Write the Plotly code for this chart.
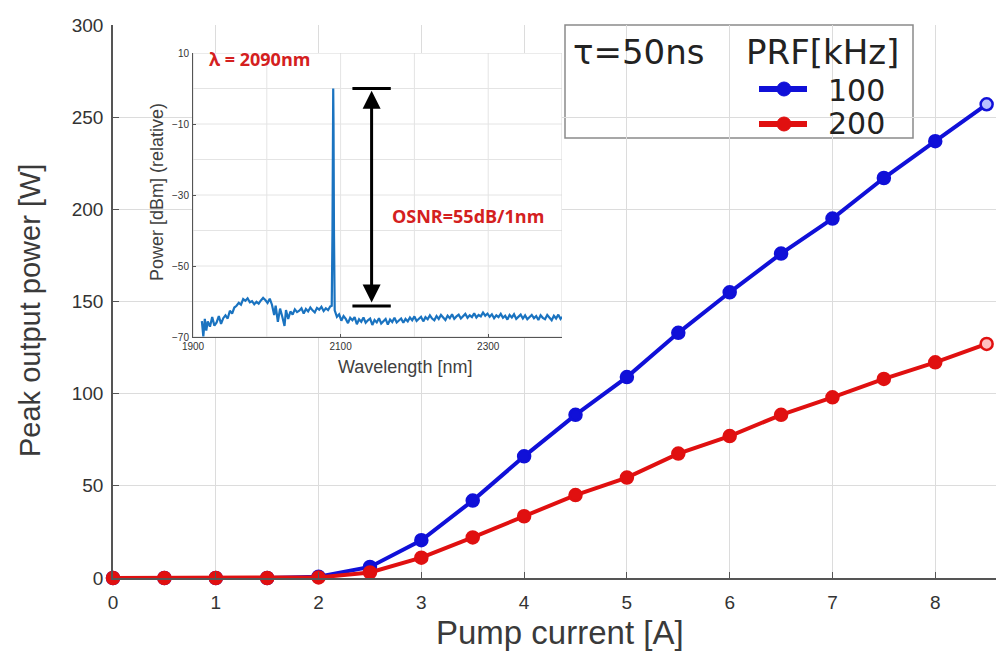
import plotly.graph_objects as go

# ---------------- data ----------------
pump_current = [0, 0.5, 1, 1.5, 2, 2.5, 3, 3.5, 4, 4.5, 5, 5.5, 6, 6.5, 7, 7.5, 8, 8.5]
peak_100khz = [0, 0, 0, 0, 0.7, 6, 20.5, 42, 66, 88.5, 109, 133, 155, 176, 195, 217, 237, 257]
peak_200khz = [0, 0, 0, 0, 0.3, 3, 11, 22, 33.5, 45, 54.5, 67.5, 77, 88.5, 98, 108, 117, 127]
x_ticks = [0, 1, 2, 3, 4, 5, 6, 7, 8]
y_ticks = [0, 50, 100, 150, 200, 250, 300]

spec_wl = [1912, 1914, 1916, 1918, 1920, 1923, 1926, 1929, 1932, 1935, 1938, 1941,
           1944, 1947, 1950, 1953, 1956, 1959,
           1962, 1965, 1968, 1971, 1974, 1977, 1980, 1983, 1986, 1989, 1992, 1995, 1998, 2001, 2004,
           2007, 2010, 2012, 2015, 2018, 2021, 2024, 2026, 2029, 2032,
           2035, 2038, 2041, 2044, 2047, 2050, 2053, 2056, 2059, 2062, 2065, 2068, 2071, 2074, 2077,
           2080, 2083, 2086,
           2088, 2089, 2089.6, 2090, 2090.4, 2091, 2092,
           2095, 2098, 2101, 2104, 2107, 2110, 2113, 2116, 2119, 2122, 2125, 2128, 2131, 2134, 2137,
           2140, 2143, 2146, 2149, 2152, 2155, 2158, 2161, 2164, 2167, 2170, 2173, 2176, 2179, 2182,
           2185, 2188, 2191, 2194, 2197, 2200, 2203, 2206, 2209, 2212, 2215, 2218, 2221, 2224, 2227,
           2230, 2233, 2236, 2239, 2242, 2245, 2248, 2251, 2254, 2257, 2260, 2263, 2266, 2269, 2272,
           2275, 2278, 2281, 2284, 2287, 2290, 2293, 2296, 2299, 2302, 2305, 2308, 2311, 2314, 2317,
           2320, 2323, 2326, 2329, 2332, 2335, 2338, 2341, 2344, 2347, 2350, 2353, 2356, 2359, 2362,
           2365, 2368, 2371, 2374, 2377, 2380, 2383, 2386, 2389, 2392, 2395, 2398, 2400]
spec_db = [-65.5, -69.8, -64.9, -68.2, -65.6, -67.1, -64.4, -66.8, -65.9, -64.1, -66.3, -64.7,
           -63.9, -64.8, -62.6, -63.4, -61.7, -61.2,
           -60.4, -60.9, -59.3, -59.8, -59.1, -60.2, -59.9, -60.8, -60.1, -60.6, -59.7, -59.0, -59.6, -60.4, -59.2,
           -60.9, -63.8, -61.2, -65.7, -62.0, -64.3, -66.9, -62.4, -64.9, -62.8,
           -63.7, -62.2, -63.0, -62.6, -61.9, -63.4, -62.1, -62.8, -61.7, -62.5, -63.1, -61.8, -62.3, -61.5, -62.7,
           -61.9, -62.4, -61.4,
           -61.2, -40.0, -10.0, 0.0, -10.0, -40.0, -62.5,
           -64.3, -63.6, -65.4, -64.1, -64.9, -66.1, -64.6, -65.3, -64.4, -66.4, -65.0, -65.7, -64.5, -66.0, -65.3,
           -64.8, -66.6, -65.2, -65.9, -64.7, -66.2, -65.4, -64.9, -66.5, -65.1, -65.8, -64.6, -65.9, -65.3, -64.8,
           -66.0, -64.9, -65.6, -64.5, -65.3, -64.2, -65.5, -64.8, -64.3, -65.6, -64.4, -65.0, -63.9, -64.8, -65.3,
           -64.1, -64.9, -63.8, -64.6, -65.2, -64.0, -64.7, -63.6, -64.9, -64.2, -63.7, -64.8, -64.1, -63.5, -64.6,
           -63.9, -64.4, -63.3, -64.5, -63.8, -64.2, -63.1, -64.0, -63.4, -64.3, -63.6, -64.7, -63.9, -64.4, -63.5,
           -64.6, -64.0, -65.1, -63.8, -64.5, -63.6, -64.9, -64.2, -63.7, -64.8, -63.9, -65.0, -64.3, -63.8, -64.7,
           -64.1, -65.2, -63.9, -64.6, -65.0, -63.8, -64.5, -65.3, -64.0, -64.8, -63.7, -64.9, -64.3]
inset_x_ticks = [1900, 2100, 2300]
inset_y_ticks = [10, -10, -30, -50, -70]
inset_x_grid = [2000, 2100, 2200, 2300]
inset_y_grid = [0, -10, -20, -30, -40, -50, -60]

BLUE = "#1010d8"
RED = "#e01010"
NARROW = "Liberation Sans Narrow, Arial Narrow, Liberation Sans, sans-serif"
BOLDF = "Open Sans, Lato, sans-serif"

# page offset (body margin) and plot area in page pixels
OFF = 8
L, R, T, B = 113, 1000, 25, 578
FIG_W, FIG_H = 1004 - OFF, 644
def fx(px):
    return (px - L) / (R - L)
def fy(py):
    return (B - py) / (B - T)

fig = go.Figure()

n = len(pump_current)
fig.add_trace(go.Scatter(
    x=pump_current, y=peak_100khz, mode="lines+markers", name="100",
    line=dict(color=BLUE, width=4),
    marker=dict(size=12, color=[BLUE] * (n - 1) + ["#b8c0ff"], line=dict(color=BLUE, width=2.5)),
    cliponaxis=False, showlegend=False))
fig.add_trace(go.Scatter(
    x=pump_current, y=peak_200khz, mode="lines+markers", name="200",
    line=dict(color=RED, width=4),
    marker=dict(size=12, color=[RED] * (n - 1) + ["#ffc0c0"], line=dict(color=RED, width=2.5)),
    cliponaxis=False, showlegend=False))

fig.add_trace(go.Scatter(
    x=spec_wl, y=spec_db, mode="lines", xaxis="x2", yaxis="y2",
    line=dict(color="#1a73c0", width=2.2), showlegend=False))

shapes = []
shapes.append(dict(type="rect", xref="paper", yref="paper",
                   x0=fx(140), x1=fx(567), y0=fy(380), y1=fy(42),
                   fillcolor="white", line=dict(width=0), layer="between"))
for gx in inset_x_grid:
    shapes.append(dict(type="line", xref="x2", yref="y2", x0=gx, x1=gx, y0=-70, y1=10,
                       line=dict(color="#e4e4e4", width=1), layer="between"))
for gy in inset_y_grid:
    shapes.append(dict(type="line", xref="x2", yref="y2", x0=1900, x1=2400, y0=gy, y1=gy,
                       line=dict(color="#e4e4e4", width=1), layer="between"))
shapes.append(dict(type="rect", xref="x2", yref="y2", x0=1900, x1=2400, y0=-70, y1=10,
                   line=dict(color="#d8d8d8", width=1), layer="between"))
for cy in [0, -61.3]:
    shapes.append(dict(type="line", xref="x2", yref="y2", x0=2116, x1=2168, y0=cy, y1=cy,
                       line=dict(color="black", width=3)))
shapes.append(dict(type="rect", xref="paper", yref="paper",
                   x0=fx(565), x1=fx(913), y0=fy(138), y1=fy(25),
                   fillcolor="white", line=dict(color="#8a8a8a", width=1.5), layer="between"))
for py, col in [(89, BLUE), (124, RED)]:
    shapes.append(dict(type="line", xref="paper", yref="paper", x0=fx(759), x1=fx(807),
                       y0=fy(py), y1=fy(py), line=dict(color=col, width=6)))
    shapes.append(dict(type="circle", xref="paper", yref="paper", x0=fx(777), x1=fx(791),
                       y0=fy(py + 7), y1=fy(py - 7), fillcolor=col, line=dict(color=col, width=1)))

def txt(text, px, py, size, family, color, xanchor="center", angle=0):
    return dict(text=text, xref="paper", yref="paper", x=fx(px), y=fy(py),
                xanchor=xanchor, yanchor="middle", textangle=angle, showarrow=False,
                font=dict(family=family, size=size, color=color))

annotations = [
    txt("Pump current [A]", 560, 632, 33, NARROW, "#3a3a3a"),
    txt("Peak output power [W]", 30, 311, 29, NARROW, "#3a3a3a", angle=-90),
    txt("τ=50ns", 571, 52, 34, "DejaVu Sans", "#222", xanchor="left"),
    txt("PRF[kHz]", 744, 52, 34, "DejaVu Sans", "#222", xanchor="left"),
    txt("100", 826, 90, 30, "DejaVu Sans", "#222", xanchor="left"),
    txt("200", 826, 124, 30, "DejaVu Sans", "#222", xanchor="left"),
    txt("<b>λ = 2090nm</b>", 207, 59, 18, BOLDF, "#d42020", xanchor="left"),
    txt("<b>OSNR=55dB/1nm</b>", 390, 216, 18, BOLDF, "#d42020", xanchor="left"),
    txt("Wavelength [nm]", 405, 367, 18, "Liberation Sans, Arial, sans-serif", "#404040"),
    txt("Power [dBm] (relative)", 157, 192, 18, "Liberation Sans, Arial, sans-serif", "#404040", angle=-90),
    dict(x=2142, y=-0.6, ax=2142, ay=-60.7, xref="x2", yref="y2", axref="x2", ayref="y2",
         text="", showarrow=True, arrowhead=2, startarrowhead=2, arrowside="end+start",
         arrowsize=1.2, startarrowsize=1.2, arrowwidth=3, arrowcolor="black", standoff=0, startstandoff=0),
]

fig.update_layout(
    width=FIG_W, height=FIG_H,
    margin=dict(l=L - OFF, r=1004 - R, t=T - OFF, b=FIG_H - (B - OFF), autoexpand=False),
    paper_bgcolor="white", plot_bgcolor="white",
    showlegend=False,
    xaxis=dict(range=[0, 8.63], tickvals=x_ticks, showgrid=True, gridcolor="#dcdcdc", gridwidth=1,
               zeroline=False, showline=True, linecolor="#555", linewidth=1.5,
               ticks="inside", ticklen=6, tickcolor="#555", ticklabelstandoff=6,
               tickfont=dict(family=NARROW, size=19, color="#333")),
    yaxis=dict(range=[0, 300], tickvals=y_ticks, showgrid=True, gridcolor="#dcdcdc", gridwidth=1,
               zeroline=False, showline=True, linecolor="#555", linewidth=1.5,
               ticks="inside", ticklen=6, tickcolor="#555", ticklabelstandoff=4,
               tickfont=dict(family=NARROW, size=19, color="#333")),
    xaxis2=dict(domain=[fx(193), fx(562)], anchor="y2", range=[1900, 2400], tickvals=inset_x_ticks,
                showgrid=False, zeroline=False, showline=True, linecolor="#555", linewidth=1,
                ticks="inside", ticklen=3, tickcolor="#555", ticklabelstandoff=0,
                tickfont=dict(family=NARROW, size=10, color="#333")),
    yaxis2=dict(domain=[fy(337), fy(53)], anchor="x2", range=[-70, 10], tickvals=inset_y_ticks,
                showgrid=False, zeroline=False, showline=True, linecolor="#555", linewidth=1,
                ticks="inside", ticklen=3, tickcolor="#555", ticklabelstandoff=1,
                tickfont=dict(family=NARROW, size=10, color="#333")),
    shapes=shapes,
    annotations=annotations,
)

fig.write_html("out.html")
